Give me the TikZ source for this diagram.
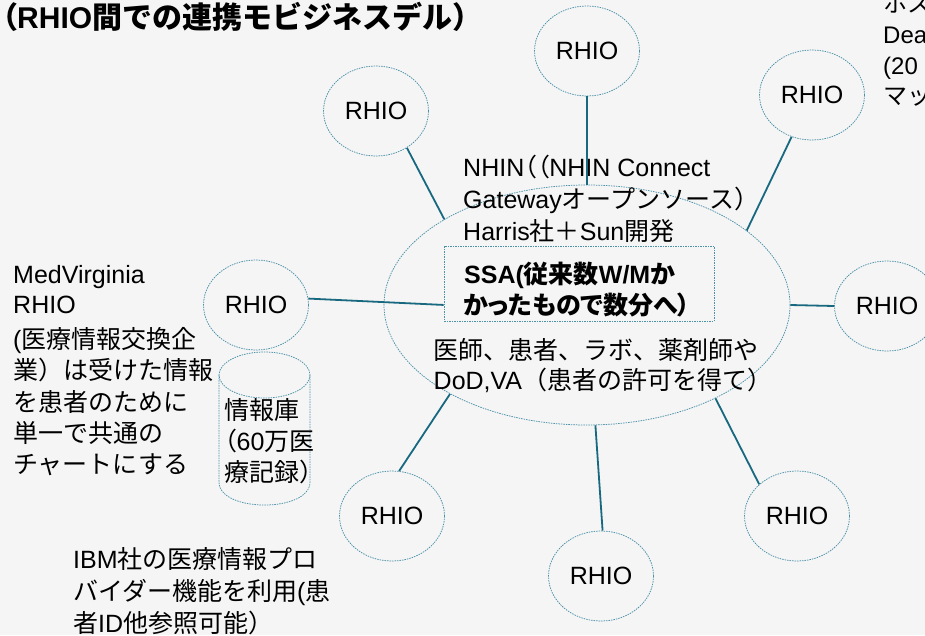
\documentclass[tikz,border=0pt]{standalone}
\usepackage{fontspec}
\setmainfont{Liberation Sans}
\newfontfamily\jpfont{Noto Sans CJK JP}
\newfontfamily\jppfont[RawFeature=+palt]{Noto Sans CJK JP}
\newcommand\JA[1]{{\jpfont #1}}
\newcommand\JP[1]{{\jppfont #1}}
\newcommand\bodyfont{\fontsize{25}{31}\selectfont}
\newcommand\titlefont{\fontsize{30}{36}\selectfont\bfseries}
\usetikzlibrary{shapes.geometric}
\definecolor{bgc}{RGB}{245,245,245}
\definecolor{linkc}{RGB}{24,104,128}
\definecolor{outl}{RGB}{75,145,168}
\begin{document}
\begin{tikzpicture}[x=1pt,y=-1pt,
  outline/.style={draw=outl, line width=0.75pt, dash pattern=on 1.5pt off 1pt},
  rhio/.style={ellipse, outline, minimum width=105pt, minimum height=90pt, inner sep=0pt, font=\bodyfont},
  bigell/.style={ellipse, outline, minimum width=406pt, minimum height=240pt, inner sep=0pt},
  dbox/.style={rectangle, outline, minimum width=270pt, minimum height=75pt, inner sep=0pt},
  link/.style={draw=linkc, line width=1.8pt},
  txt/.style={anchor=base west, inner sep=0pt, font=\bodyfont},
  boldtxt/.style={txt, font={\bodyfont\bfseries}},
  cuttxt/.style={txt, font={\fontsize{24}{30}\selectfont}},
]
\useasboundingbox (0,0) rectangle (925,635);
\fill[bgc] (0,0) rectangle (925,635);
\begin{scope}
\clip (0,0) rectangle (925,635);
% title
\node[txt, font=\titlefont] (title) at (2,28) {\JP{（}RHIO\JA{間での連携モビジネスデル）}};
% top-right text, cut by the right edge as in the reference
\node[cuttxt] (tr1) at (883,12) {\JA{ホス}};
\node[cuttxt] (tr2) at (883,43) {Dea};
\node[cuttxt] (tr3) at (883,74.5) {(20};
\node[cuttxt] (tr4) at (883,104) {\JA{マッ}};
% central ellipse and box
\node[bigell] (c) at (587,305) {};
\node[dbox] (box) at (579,283.5) {};
% RHIO nodes
\node[rhio] (r1) at (587,51) {RHIO};
\node[rhio] (r2) at (376,111) {RHIO};
\node[rhio] (r3) at (812,95) {RHIO};
\node[rhio] (r4) at (887,306) {RHIO};
\node[rhio] (r5) at (797,516) {RHIO};
\node[rhio] (r6) at (601,576) {RHIO};
\node[rhio] (r7) at (392,516) {RHIO};
\node[rhio] (r8) at (256,305) {RHIO};
% cylinder
\draw[outline] (219,375) -- (219,482) .. controls (219,512.7) and (310,512.7) .. (310,482) -- (310,375);
\draw[outline] (264.5,375) ellipse [x radius=45.5, y radius=23];
% central texts
\node[txt] (n1) at (463,176.5) {NHIN\JP{（（}NHIN Connect};
\node[txt] (n2) at (463,208.5) {Gateway\JA{オープンソース）}};
\node[txt] (n3) at (463,240.5) {Harris\JA{社＋}Sun\JA{開発}};
\node[boldtxt] (s1) at (464,283) {SSA(\JA{従来数}W/M\JA{か}};
\node[boldtxt] (s2) at (463,314.5) {\JP{かったもので数分へ）}};
\node[txt] (d1) at (433.5,359) {\JA{医師、患者、ラボ、薬剤師や}};
\node[txt] (d2) at (433.5,389) {DoD,VA\JA{（患者の許可を得て）}};
% left texts
\node[txt] (m1) at (13,283) {MedVirginia};
\node[txt] (m2) at (13,313) {RHIO};
\node[txt] (m3) at (13,348) {(\JA{医療情報交換企}};
\node[txt] (m4) at (13,379.5) {\JA{業）は受けた情報}};
\node[txt] (m5) at (13,411) {\JA{を患者のために}};
\node[txt] (m6) at (13,442) {\JA{単一で共通の}};
\node[txt] (m7) at (13,473.5) {\JA{チャートにする}};
% cylinder text
\node[txt] (k1) at (224,419) {\JA{情報庫}};
\node[txt] (k2) at (224,450) {\JP{（}60\JA{万医}};
\node[txt] (k3) at (224,481) {\JA{療記録）}};
% IBM text
\node[txt] (i1) at (73,568) {IBM\JA{社の医療情報プロ}};
\node[txt] (i2) at (73,600.5) {\JA{バイダー機能を利用}(\JA{患}};
\node[txt] (i3) at (73,632) {\JA{者}ID\JA{他参照可能）}};
% connectors
\draw[link] (r1.south) -- (c.north);
\draw[link] (r2.-50) -- (c.149.4);
\draw[link] (r3.-116) -- (c.25.4);
\draw[link] (c.east) -- (r4.west);
\draw[link] (c.-36) -- (r5.140);
\draw[link] (c.-86.7) -- (r6.88);
\draw[link] (c.-147.8) -- (r7.81);
\draw[link] (r8.7) -- (box.189.05);
\end{scope}
\end{tikzpicture}
\end{document}
